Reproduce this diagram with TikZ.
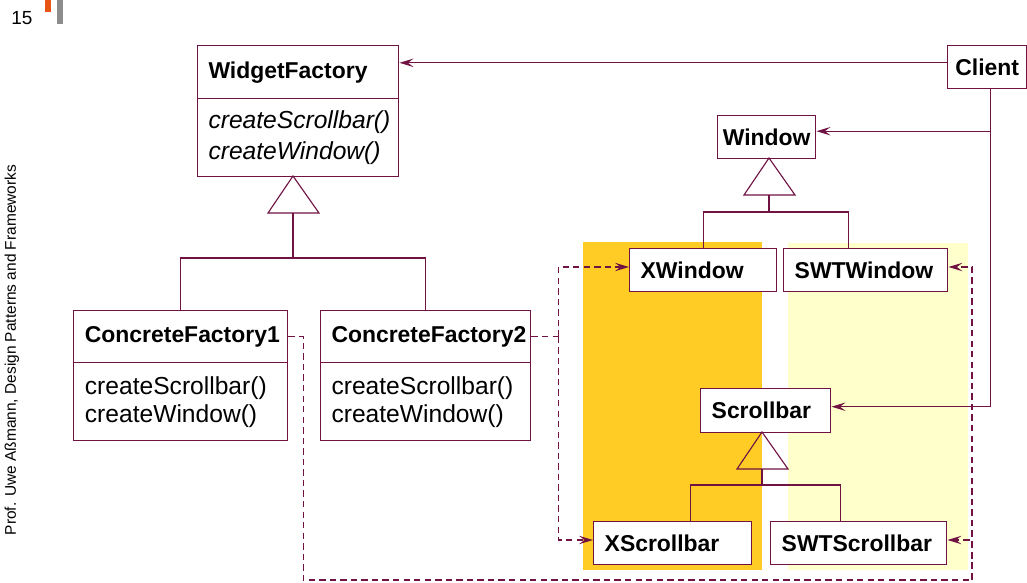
\documentclass[tikz,border=0pt]{standalone}
\usepackage{fontspec}
\setmainfont{Liberation Sans}
\usepackage{xcolor}
\usetikzlibrary{arrows.meta}

\definecolor{lien}{RGB}{112,18,66}
\definecolor{orangefond}{RGB}{255,204,38}
\definecolor{jaunefond}{RGB}{255,255,204}
\definecolor{barre}{RGB}{232,84,20}

\begin{document}
\begin{tikzpicture}[x=0.025cm,y=-0.025cm,
  classe/.style={draw=lien,fill=white,line width=1pt,anchor=north west,inner ysep=0pt,inner xsep=0.27cm,
    font=\fontsize{16.3}{20}\selectfont\bfseries},
  produit/.style={classe,align=left,inner xsep=0.275cm,text width=#1,minimum height=1.075cm},
  methodes/.style={classe,font=\fontsize{17.5}{#1}\selectfont,align=left},
  abstraites/.style={classe,font=\fontsize{17.5}{#1}\selectfont\itshape,align=left},
  fleche/.style={draw=lien,line width=0.8pt,-{Stealth[length=10pt,width=6pt,inset=4pt]}},
  trait/.style={draw=lien,line width=0.8pt},
  pointille/.style={trait,dash pattern=on 4.5pt off 3pt}]

\useasboundingbox (0,0) rectangle (1027,583);

% Fonds de couleur
\fill[orangefond] (583,242) rectangle (762,570);
\fill[jaunefond] (788,243) rectangle (968,570);

% En-tête de la page
\fill[barre] (45,0) rectangle (51,12);
\fill[black!45] (57,0) rectangle (63,24);
\node[font=\fontsize{13.5}{16}\selectfont] (page) at (22,18) {15};
\node[rotate=90,font=\fontsize{11}{13}\selectfont] (auteur) at (12,350) {Prof. Uwe Aßmann, Design Patterns and Frameworks};

% Fabrique abstraite
\node[classe,text width=4.485cm,minimum height=1.325cm,align=left] (wft) at (197,45) {WidgetFactory};
\node[abstraites=21.5,text width=4.485cm,minimum height=1.95cm] (wfb) at (197,98) {createScrollbar()\\createWindow()};

% Fabriques concrètes
\node[classe,text width=4.785cm,minimum height=1.3cm,align=left,inner xsep=0.28cm] (cf1t) at (73,310) {ConcreteFactory1};
\node[methodes=20,text width=4.785cm,minimum height=1.95cm,inner xsep=0.28cm] (cf1b) at (73,362) {createScrollbar()\\createWindow()};
\node[classe,text width=4.71cm,minimum height=1.3cm,align=left,inner xsep=0.27cm] (cf2t) at (320,310) {ConcreteFactory2};
\node[methodes=20,text width=4.71cm,minimum height=1.95cm,inner xsep=0.27cm] (cf2b) at (320,362) {createScrollbar()\\createWindow()};

% Client et produits
\node[classe,minimum width=1.975cm,minimum height=1.075cm,inner xsep=0pt] (client) at (947,45) {Client};
\node[classe,minimum width=2.45cm,minimum height=1.075cm,inner xsep=0pt] (window) at (717,115) {Window};
\node[produit=3.125cm] (xwindow) at (629,248) {XWindow};
\node[produit=3.55cm] (swtwindow) at (783,248) {SWTWindow};
\node[produit=2.7cm,minimum height=1.1cm] (scrollbar) at (700,388) {Scrollbar};
\node[produit=3.4cm] (xscrollbar) at (593,521) {XScrollbar};
\node[produit=3.85cm] (swtscrollbar) at (770,521) {SWTScrollbar};

% Héritage (triangles)
\draw[trait] (293,176) -- (268,213) -- (319,213) -- cycle;
\coordinate (wfbase) at (293,213);
\coordinate (wfbarre) at (293,258);
\draw[trait] (wfbase) -- (wfbarre);
\draw[trait] (cf1t.north) |- (wfbarre) -| (cf2t.north);

\draw[trait] (769,158) -- (744,195) -- (795,195) -- cycle;
\coordinate (winbase) at (769,195);
\coordinate (winbarre) at (769,212);
\draw[trait] (winbase) -- (winbarre);
\draw[trait] (xwindow.north) |- (winbarre) -| ([xshift=-0.425cm]swtwindow.north);

\draw[trait] (762,432) -- (737,469) -- (788,469) -- cycle;
\coordinate (sbbase) at (762,469);
\coordinate (sbbarre) at (762,485);
\draw[trait] (sbbase) -- (sbbarre);
\draw[trait] ([xshift=0.45cm]xscrollbar.north) |- (sbbarre) -| ([xshift=-0.45cm]swtscrollbar.north);

% Associations du client
\draw[fleche] ([yshift=0.11cm]client.west) -- ([yshift=0.11cm]client.west -| wft.east);
\draw[fleche] ([xshift=0.09cm]client.south) |- ([yshift=0.1cm]scrollbar.east);
\draw[fleche] ([xshift=0.09cm,yshift=0.15cm]client.south |- window.east) -- ([yshift=0.15cm]window.east);

% Dépendances de création (pointillés)
\draw[pointille] (cf2t.east) -- ++(27,0) coordinate (d1);
\draw[pointille,-{Stealth[length=10pt,width=6pt,inset=4pt]}] (d1) |- ([yshift=0.08cm]xwindow.west);
\draw[pointille,-{Stealth[length=10pt,width=6pt,inset=4pt]}] (d1) |- ([yshift=0.08cm]xscrollbar.west);
\coordinate (d2) at (972,580);
\draw[pointille,-{Stealth[length=10pt,width=6pt,inset=4pt]}] (cf1t.east) -- ++(15,0) |- (d2) |- ([yshift=0.08cm]swtwindow.east);
\draw[pointille,-{Stealth[length=10pt,width=6pt,inset=4pt]}] (d2) |- ([yshift=0.08cm]swtscrollbar.east);

\end{tikzpicture}
\end{document}
